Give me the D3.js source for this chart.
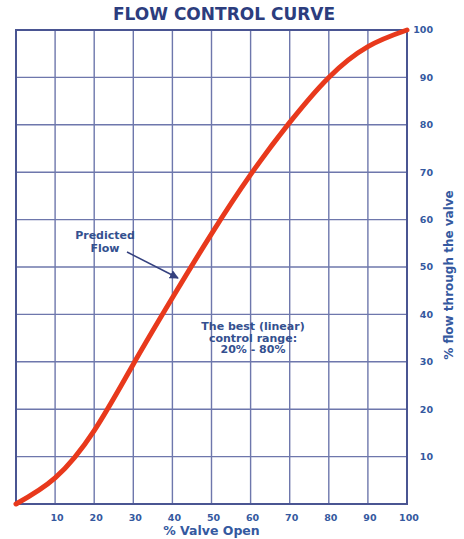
<!DOCTYPE html>
<html>
<head>
<meta charset="utf-8">
<script src="https://cdn.jsdelivr.net/npm/d3@7"></script>
<style>
  html, body { margin: 0; padding: 0; background: #fff; }
  svg { display: block; font-family: "DejaVu Sans", Verdana, sans-serif; font-weight: bold; }
</style>
</head>
<body>
<div id="chart"></div>
<script>
// values
const valveOpen = [0, 10, 20, 30, 40, 50, 60, 70, 80, 90, 100];
const flowPct = [0, 5.5, 15.5, 29.5, 43.5, 57, 69.5, 80.5, 90, 96.5, 100];
const xTicks = [10, 20, 30, 40, 50, 60, 70, 80, 90, 100];
const yTicks = [10, 20, 30, 40, 50, 60, 70, 80, 90, 100];

const width = 464;
const height = 539;
const margin = { top: 30, right: 57, bottom: 35, left: 16 };

const NAVY = "#2c3d7e";
const LABEL = "#3559a0";
const GRID = "#55609e";

const svg = d3.select("#chart")
  .append("svg")
  .attr("width", width)
  .attr("height", height);

const x = d3.scaleLinear().domain([0, 100]).range([margin.left, width - margin.right]);
const y = d3.scaleLinear().domain([0, 100]).range([height - margin.bottom, margin.top]);

// grid
const grid = svg.append("g").attr("stroke", GRID).attr("stroke-width", 1.4).attr("opacity", 0.85);
grid.selectAll("line.v")
  .data(xTicks.slice(0, -1))
  .join("line")
  .attr("class", "v")
  .attr("x1", d => x(d)).attr("x2", d => x(d))
  .attr("y1", y(0)).attr("y2", y(100));
grid.selectAll("line.h")
  .data(yTicks.slice(0, -1))
  .join("line")
  .attr("class", "h")
  .attr("x1", x(0)).attr("x2", x(100))
  .attr("y1", d => y(d)).attr("y2", d => y(d));

// frame
svg.append("rect")
  .attr("x", x(0)).attr("y", y(100))
  .attr("width", x(100) - x(0))
  .attr("height", y(0) - y(100))
  .attr("fill", "none")
  .attr("stroke", "#4a5592")
  .attr("stroke-width", 2);

// x tick labels
svg.append("g")
  .selectAll("text")
  .data(xTicks)
  .join("text")
  .attr("x", d => x(d) + 2)
  .attr("y", 521)
  .attr("text-anchor", "middle")
  .attr("font-size", 9.5)
  .attr("fill", LABEL)
  .text(d => d);

// y tick labels
svg.append("g")
  .selectAll("text")
  .data(yTicks)
  .join("text")
  .attr("x", 433)
  .attr("y", d => y(d))
  .attr("dy", "0.35em")
  .attr("text-anchor", "end")
  .attr("font-size", 9.5)
  .attr("fill", LABEL)
  .text(d => d);

// axis titles
svg.append("text")
  .attr("x", (x(0) + x(100)) / 2)
  .attr("y", 535)
  .attr("text-anchor", "middle")
  .attr("font-size", 12.5)
  .attr("fill", LABEL)
  .text("% Valve Open");

svg.append("text")
  .attr("transform", "translate(453,275) rotate(-90)")
  .attr("text-anchor", "middle")
  .attr("font-size", 12)
  .attr("fill", LABEL)
  .text("% flow through the valve");

// title
svg.append("text")
  .attr("x", 224)
  .attr("y", 20)
  .attr("text-anchor", "middle")
  .attr("font-size", 17)
  .attr("fill", NAVY)
  .text("FLOW CONTROL CURVE");

// the curve
const line = d3.line()
  .x((d, i) => x(valveOpen[i]))
  .y(d => y(d))
  .curve(d3.curveNatural);

svg.append("path")
  .datum(flowPct)
  .attr("fill", "none")
  .attr("stroke", "#e8391c")
  .attr("stroke-width", 5)
  .attr("stroke-linecap", "round")
  .attr("d", line);

// annotations
svg.append("defs").append("marker")
  .attr("id", "arrow")
  .attr("viewBox", "0 0 10 10")
  .attr("refX", 9).attr("refY", 5)
  .attr("markerWidth", 6).attr("markerHeight", 6)
  .attr("orient", "auto")
  .append("path")
  .attr("d", "M0,0L10,5L0,10z")
  .attr("fill", "#34407e");

const predicted = svg.append("text")
  .attr("text-anchor", "middle")
  .attr("font-size", 11)
  .attr("fill", "#34508f");
predicted.append("tspan").attr("x", 105).attr("y", 239).text("Predicted");
predicted.append("tspan").attr("x", 105).attr("y", 252).text("Flow");

svg.append("line")
  .attr("x1", 127).attr("y1", 252)
  .attr("x2", 178).attr("y2", 278)
  .attr("stroke", "#34407e")
  .attr("stroke-width", 1.5)
  .attr("marker-end", "url(#arrow)");

const best = svg.append("text")
  .attr("text-anchor", "middle")
  .attr("font-size", 11)
  .attr("fill", "#34508f");
best.append("tspan").attr("x", 253).attr("y", 330).text("The best (linear)");
best.append("tspan").attr("x", 253).attr("y", 341.5).text("control range:");
best.append("tspan").attr("x", 253).attr("y", 353).text("20% - 80%");
</script>
</body>
</html>
